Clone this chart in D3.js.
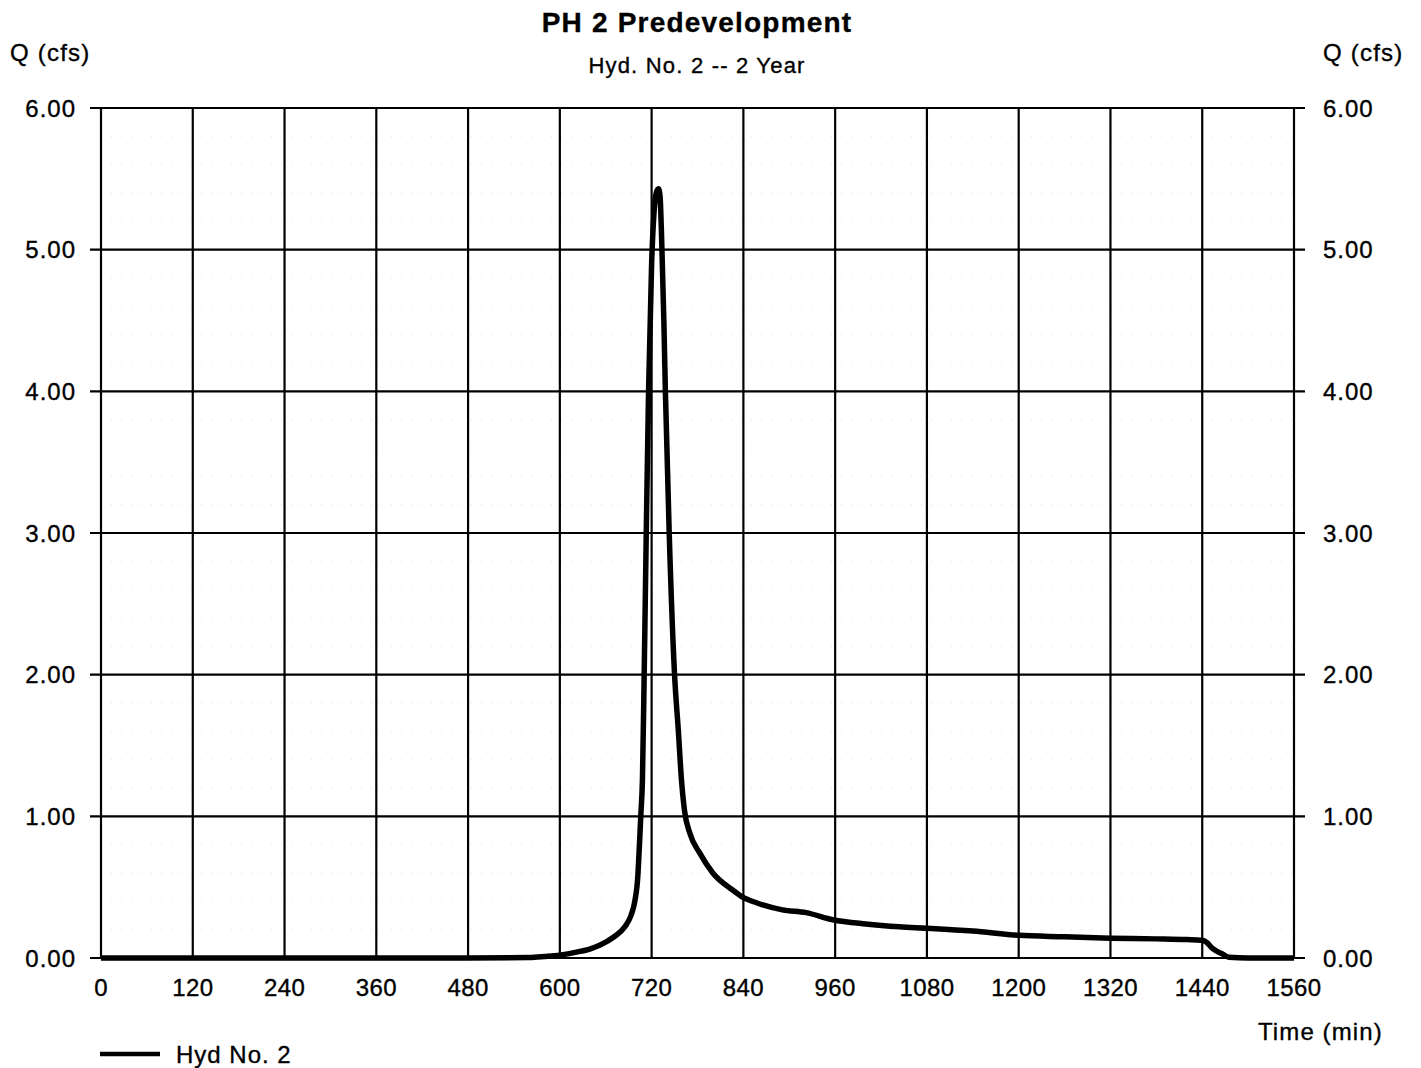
<!DOCTYPE html>
<html>
<head>
<meta charset="utf-8">
<script src="https://cdn.jsdelivr.net/npm/d3@7"></script>
<style>
  html, body { margin: 0; padding: 0; background: #fff; }
  svg { display: block; font-family: "Liberation Sans", Arial, sans-serif; }
  svg text { stroke: #000; stroke-width: 0.35px; fill: #000; }
</style>
</head>
<body>
<svg id="chart" width="1421" height="1068"></svg>
<script>
// Hydrograph ordinates: time (min) and discharge Q (cfs)
const times = [0, 120, 240, 360, 480, 560, 580, 600, 620, 640, 652, 671, 685, 693, 698, 702, 704, 706, 708, 710, 713, 716, 720, 723, 726, 729, 731, 733, 736, 738, 743, 750, 755, 759, 763, 770, 783, 800, 826, 839, 857, 891, 922, 957, 1000, 1044, 1080, 1140, 1200, 1260, 1320, 1380, 1420, 1440, 1446, 1453, 1460, 1466, 1475, 1500, 1560];
const flows = [0, 0, 0, 0, 0, 0.003, 0.01, 0.02, 0.04, 0.065, 0.09, 0.15, 0.22, 0.3, 0.4, 0.58, 0.79, 1.02, 1.26, 1.9, 3.0, 4.0, 4.9, 5.25, 5.4, 5.43, 5.38, 5.1, 4.5, 4.0, 3.0, 2.0, 1.6, 1.26, 1.04, 0.88, 0.74, 0.6, 0.48, 0.43, 0.39, 0.34, 0.32, 0.27, 0.24, 0.22, 0.21, 0.19, 0.16, 0.15, 0.14, 0.135, 0.13, 0.125, 0.11, 0.07, 0.045, 0.03, 0.005, 0, 0];

const xTicks = [0, 120, 240, 360, 480, 600, 720, 840, 960, 1080, 1200, 1320, 1440, 1560];
const yTicks = [0, 1, 2, 3, 4, 5, 6];
const yMinor = d3.range(0.2, 6, 0.2).filter(v => Math.abs(v - Math.round(v)) > 0.01);

const titleText = "PH 2 Predevelopment";
const subtitleText = "Hyd. No. 2 -- 2 Year";
const yLabel = "Q (cfs)";
const xLabel = "Time (min)";
const seriesName = "Hyd No. 2";

const svg = d3.select("#chart");
const plot = { left: 101, right: 1294, top: 108, bottom: 958 };
const tickLen = 11;

const x = d3.scaleLinear().domain([0, 1560]).range([plot.left, plot.right]);
const y = d3.scaleLinear().domain([0, 6]).range([plot.bottom, plot.top]);

// faint dotted minor grid
svg.append("g")
  .selectAll("line")
  .data(yMinor)
  .join("line")
  .attr("x1", plot.left).attr("x2", plot.right)
  .attr("y1", d => y(d)).attr("y2", d => y(d))
  .attr("stroke", "#bbb")
  .attr("stroke-width", 1)
  .attr("stroke-dasharray", "1,9")
  .attr("opacity", 0.45);

// major vertical grid
svg.append("g")
  .selectAll("line")
  .data(xTicks)
  .join("line")
  .attr("x1", d => x(d)).attr("x2", d => x(d))
  .attr("y1", plot.top).attr("y2", plot.bottom)
  .attr("stroke", "#000").attr("stroke-width", 2.2);

// major horizontal grid, with outside ticks on both sides
svg.append("g")
  .selectAll("line")
  .data(yTicks)
  .join("line")
  .attr("x1", plot.left - tickLen).attr("x2", plot.right + tickLen)
  .attr("y1", d => y(d)).attr("y2", d => y(d))
  .attr("stroke", "#000").attr("stroke-width", 2.2);

// y tick labels, left and right
const fmt = d3.format(".2f");
svg.append("g")
  .selectAll("text")
  .data(yTicks)
  .join("text")
  .attr("x", 76).attr("y", d => y(d))
  .attr("dy", "0.36em")
  .attr("text-anchor", "end")
  .attr("font-size", 24)
  .attr("letter-spacing", 1)
  .text(fmt);
svg.append("g")
  .selectAll("text")
  .data(yTicks)
  .join("text")
  .attr("x", 1323).attr("y", d => y(d))
  .attr("dy", "0.36em")
  .attr("text-anchor", "start")
  .attr("font-size", 24)
  .attr("letter-spacing", 1)
  .text(fmt);

// x tick labels
svg.append("g")
  .selectAll("text")
  .data(xTicks)
  .join("text")
  .attr("x", d => x(d)).attr("y", 996)
  .attr("text-anchor", "middle")
  .attr("font-size", 24)
  .attr("letter-spacing", 0.4)
  .text(d => d);

// hydrograph curve
const line = d3.line()
  .x((d, i) => x(times[i]))
  .y(d => y(d))
  .curve(d3.curveMonotoneX);

svg.append("path")
  .datum(flows)
  .attr("d", line)
  .attr("fill", "none")
  .attr("stroke", "#000")
  .attr("stroke-width", 5.5)
  .attr("stroke-linejoin", "round");

// titles and axis labels
svg.append("text").attr("x", 697).attr("y", 32)
  .attr("text-anchor", "middle").attr("font-size", 28).attr("font-weight", "bold")
  .attr("letter-spacing", 1.2)
  .text(titleText);
svg.append("text").attr("x", 697).attr("y", 73)
  .attr("text-anchor", "middle").attr("font-size", 22)
  .attr("letter-spacing", 1.2)
  .text(subtitleText);
svg.append("text").attr("x", 10).attr("y", 61)
  .attr("font-size", 24).attr("letter-spacing", 1.2).text(yLabel);
svg.append("text").attr("x", 1323).attr("y", 61)
  .attr("font-size", 24).attr("letter-spacing", 1.2).text(yLabel);
svg.append("text").attr("x", 1258).attr("y", 1040)
  .attr("font-size", 24).attr("letter-spacing", 1.1).text(xLabel);

// legend
svg.append("line")
  .attr("x1", 100).attr("x2", 160).attr("y1", 1054).attr("y2", 1054)
  .attr("stroke", "#000").attr("stroke-width", 4.5);
svg.append("text").attr("x", 176).attr("y", 1063)
  .attr("font-size", 24).attr("letter-spacing", 1).text(seriesName);
</script>
</body>
</html>
